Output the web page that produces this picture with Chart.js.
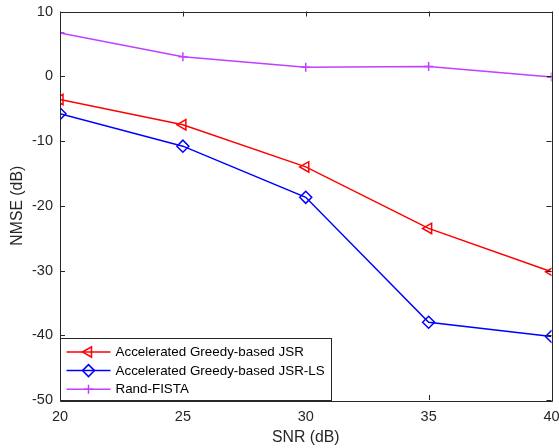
<!DOCTYPE html>
<html>
<head>
<meta charset="utf-8">
<script src="https://cdn.jsdelivr.net/npm/chart.js@4.4.1/dist/chart.umd.min.js"></script>
<style>
  html, body { margin: 0; padding: 0; background: #fff; }
  #wrap { width: 559px; height: 448px; position: relative; }
</style>
</head>
<body>
<div id="wrap"><canvas id="c" width="559" height="448"></canvas></div>
<script>
// data
var snr = [20, 25, 30, 35, 40];
var greedyJSR = [-3.6, -7.5, -14.0, -23.5, -30.2];
var greedyJSRLS = [-5.8, -10.8, -18.7, -38.0, -40.2];
var randFISTA = [6.7, 3.0, 1.4, 1.5, -0.1];
var seriesNames = ['Accelerated Greedy-based JSR', 'Accelerated Greedy-based JSR-LS', 'Rand-FISTA'];

var axisColor = '#262626';
var fontFamily = '"Liberation Sans", Arial, Helvetica, sans-serif';

function toPoints(xs, ys) {
    return xs.map(function (x, i) { return { x: x, y: ys[i] }; });
}

var datasets = [
    {
        label: seriesNames[0],
        data: toPoints(snr, greedyJSR),
        borderColor: '#ff0000',
        pointStyle: 'triangle',
        pointRotation: -90,
        pointRadius: 6
    },
    {
        label: seriesNames[1],
        data: toPoints(snr, greedyJSRLS),
        borderColor: '#0000ff',
        pointStyle: 'rectRot',
        pointRadius: 6
    },
    {
        label: seriesNames[2],
        data: toPoints(snr, randFISTA),
        borderColor: 'rgb(191,64,255)',
        pointStyle: 'cross',
        pointRadius: 4.5
    }
];
datasets.forEach(function (ds) {
    ds.borderWidth = 1.5;
    ds.pointBorderColor = ds.borderColor;
    ds.pointBackgroundColor = 'rgba(0,0,0,0)';
    ds.pointBorderWidth = 1.5;
    ds.tension = 0;
    ds.fill = false;
});

// box, inward ticks on all four sides, legend in lower-left corner (matlab style)
var matlabAxes = {
    id: 'matlabAxes',
    afterDatasetsDraw: function (chart) {
        var ctx = chart.ctx;
        var a = chart.chartArea;
        var xs = chart.scales.x, ys = chart.scales.y;
        var tl = 5;
        ctx.save();
        ctx.strokeStyle = axisColor;
        ctx.lineWidth = 1;
        ctx.beginPath();
        xs.ticks.forEach(function (t) {
            var px = Math.round(xs.getPixelForValue(t.value)) + 0.5;
            ctx.moveTo(px, a.bottom); ctx.lineTo(px, a.bottom - tl);
            ctx.moveTo(px, a.top); ctx.lineTo(px, a.top + tl);
        });
        ys.ticks.forEach(function (t) {
            var py = Math.round(ys.getPixelForValue(t.value)) + 0.5;
            ctx.moveTo(a.left, py); ctx.lineTo(a.left + tl, py);
            ctx.moveTo(a.right, py); ctx.lineTo(a.right - tl, py);
        });
        ctx.stroke();
        ctx.beginPath();
        ctx.rect(Math.round(a.left) + 0.5, Math.round(a.top) + 0.5,
                 Math.round(a.right - a.left), Math.round(a.bottom - a.top));
        ctx.stroke();

        // legend
        var boxW = 271, rowH = 18.6, boxH = 62;
        var bx = Math.round(a.left) + 0.5, by = Math.round(a.bottom - boxH) + 0.5;
        ctx.fillStyle = '#ffffff';
        ctx.fillRect(bx, by, boxW, boxH);
        ctx.strokeRect(bx, by, boxW, boxH);
        ctx.font = '13.4px ' + fontFamily;
        ctx.textBaseline = 'middle';
        chart.data.datasets.forEach(function (ds, i) {
            var cy = by + 13.5 + i * rowH;
            ctx.strokeStyle = ds.borderColor;
            ctx.lineWidth = 1.5;
            ctx.beginPath();
            ctx.moveTo(bx + 6, cy); ctx.lineTo(bx + 50, cy);
            ctx.stroke();
            ctx.fillStyle = 'rgba(0,0,0,0)';
            Chart.helpers.drawPoint(ctx, {
                pointStyle: ds.pointStyle,
                rotation: ds.pointRotation || 0,
                radius: ds.pointRadius,
                borderWidth: 1.5
            }, bx + 28, cy);
            ctx.fillStyle = '#000000';
            ctx.fillText(ds.label, bx + 55, cy + 0.5);
        });
        ctx.restore();
    }
};

new Chart(document.getElementById('c').getContext('2d'), {
    type: 'line',
    data: { datasets: datasets },
    options: {
        responsive: false,
        animation: false,
        layout: { padding: { top: 11.5, right: 7, left: 0, bottom: 0 } },
        plugins: {
            legend: { display: false },
            tooltip: { enabled: false }
        },
        scales: {
            x: {
                type: 'linear',
                min: 20,
                max: 40,
                ticks: {
                    stepSize: 5,
                    color: axisColor,
                    padding: 8,
                    font: { family: fontFamily, size: 14.5 }
                },
                grid: { display: false, drawTicks: false },
                border: { display: false },
                title: {
                    display: true,
                    text: 'SNR (dB)',
                    color: axisColor,
                    padding: { top: 1, bottom: 1 },
                    font: { family: fontFamily, size: 15.8 }
                },
                afterFit: function (scale) {
                    scale.height = 48;
                    scale.paddingLeft = 0;
                    scale.paddingRight = 0;
                }
            },
            y: {
                min: -50,
                max: 10,
                ticks: {
                    stepSize: 10,
                    color: axisColor,
                    padding: 7,
                    font: { family: fontFamily, size: 14.5 }
                },
                grid: { display: false, drawTicks: false },
                border: { display: false },
                title: {
                    display: true,
                    text: 'NMSE (dB)',
                    color: axisColor,
                    padding: { top: 8, bottom: 0 },
                    font: { family: fontFamily, size: 15.8 }
                },
                afterFit: function (scale) {
                    scale.width = 60;
                    scale.paddingTop = 0;
                    scale.paddingBottom = 0;
                }
            }
        }
    },
    plugins: [matlabAxes]
});
</script>
</body>
</html>
